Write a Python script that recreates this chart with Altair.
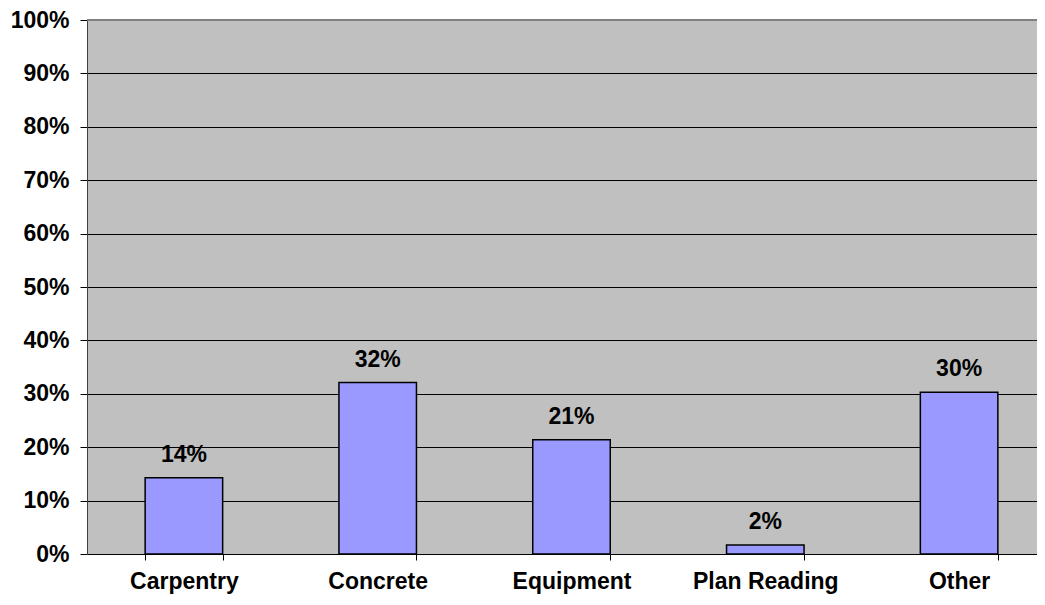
import altair as alt
import pandas as pd

categories = ["Carpentry", "Concrete", "Equipment", "Plan Reading", "Other"]
values = [0.143, 0.321, 0.214, 0.017, 0.303]

df = pd.DataFrame({"category": categories, "value": values})

FONT = "Liberation Sans"
FS = 23

x = alt.X("category:N", sort=categories, title=None,
          scale=alt.Scale(paddingInner=0.6, paddingOuter=0.3, range=[0, 969]),
          axis=alt.Axis(labelAngle=0, labelFont=FONT, labelFontSize=FS, labelFontWeight="bold",
                        labelColor="black", domainColor="black", tickColor="black",
                        tickSize=6, tickBand="extent", labelPadding=10, grid=False))
y = alt.Y("value:Q", title=None,
          scale=alt.Scale(domain=[0, 1], nice=False),
          axis=alt.Axis(format=".0%", values=[i / 10 for i in range(11)],
                        labelFont=FONT, labelFontSize=FS, labelFontWeight="bold",
                        labelColor="black", domainColor="#404040", tickColor="black",
                        tickSize=7, labelPadding=11, grid=True, gridColor="black",
                        gridWidth=1))

bars = alt.Chart(df).mark_bar(color="#9999FF", stroke="black", strokeWidth=1.5).encode(x=x, y=y)
labels = alt.Chart(df).mark_text(font=FONT, fontSize=FS, fontWeight="bold", color="black",
                                 baseline="alphabetic", dy=-16).encode(
    x=alt.X("category:N", sort=categories), y="value:Q",
    text=alt.Text("value:Q", format=".0%"))
top = alt.Chart(df).mark_rule(color="#808080", strokeWidth=2).encode(y=alt.datum(1))

chart = alt.layer(bars, top, labels).properties(
    width=950, height=534,
    padding={"left": 79, "top": 12, "right": 0, "bottom": 43},
    autosize=alt.AutoSizeParams(type="none"),
    background="white",
).configure_view(fill="#C0C0C0", stroke=None)

chart.save("out.html", embed_options={"renderer": "svg", "actions": False})
